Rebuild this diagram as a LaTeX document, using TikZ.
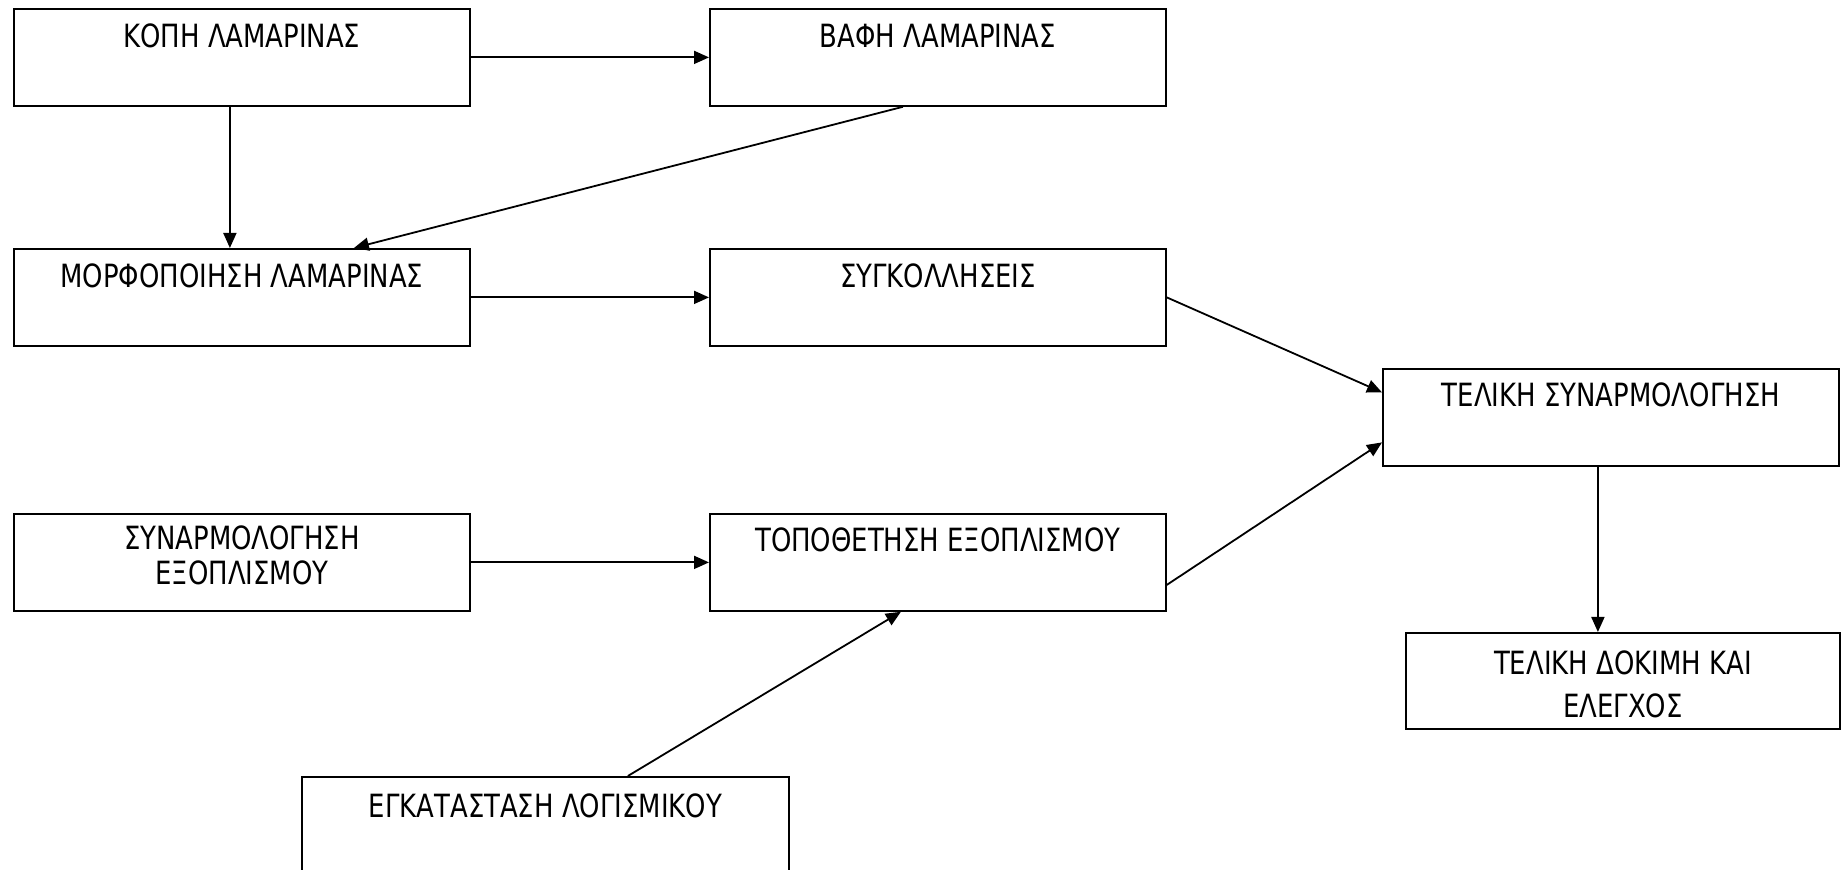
\documentclass[tikz,border=0pt]{standalone}
\usepackage{fontspec}
\setmainfont{DejaVu Sans}[FakeStretch=0.81]
\usetikzlibrary{arrows.meta,calc}
\begin{document}
\begin{tikzpicture}[x=0.5pt,y=-0.5pt,
  box/.style={draw, line width=0.9pt, inner sep=0pt, anchor=north west, minimum height=48.5pt},
  wide/.style={minimum width=228pt},
  txt/.style={anchor=base, inner sep=0pt, font=\fontsize{16}{17.5}\selectfont, align=center},
  conn/.style={line width=0.9pt, -{Triangle[length=7.5pt,width=6.5pt]}}]
\useasboundingbox (0,0) rectangle (1841,870);
\clip (0,0) rectangle (1841,870);
% boxes
\node[box,wide] (b1) at (13,8) {};
\node[box,wide] (b2) at (709,8) {};
\node[box,wide] (b3) at (13,248) {};
\node[box,wide] (b4) at (709,248) {};
\node[box,wide] (b5) at (1382,368) {};
\node[box,wide] (b6) at (13,513) {};
\node[box,wide] (b7) at (709,513) {};
\node[box,minimum width=217pt,minimum height=48pt] (b8) at (1405,632) {};
\node[box,minimum width=243.5pt,minimum height=60pt] (b9) at (301,776) {};
% texts
\node[txt] (t1) at ($(b1.north)+(0,40)$) {ΚΟΠΗ ΛΑΜΑΡΙΝΑΣ};
\node[txt] (t2) at ($(b2.north)+(0,40)$) {ΒΑΦΗ ΛΑΜΑΡΙΝΑΣ};
\node[txt] (t3) at ($(b3.north)+(0,40)$) {ΜΟΡΦΟΠΟΙΗΣΗ ΛΑΜΑΡΙΝΑΣ};
\node[txt] (t4) at ($(b4.north)+(0,40)$) {ΣΥΓΚΟΛΛΗΣΕΙΣ};
\node[txt] (t5) at ($(b5.north)+(0,39)$) {ΤΕΛΙΚΗ ΣΥΝΑΡΜΟΛΟΓΗΣΗ};
\node[txt] (t6) at ($(b6.north)+(0,72)$) {ΣΥΝΑΡΜΟΛΟΓΗΣΗ\\ΕΞΟΠΛΙΣΜΟΥ};
\node[txt] (t7) at ($(b7.north)+(0,39)$) {ΤΟΠΟΘΕΤΗΣΗ ΕΞΟΠΛΙΣΜΟΥ};
\node[txt,font=\fontsize{16}{21.5}\selectfont] (t8) at ($(b8.north)+(0,86)$) {ΤΕΛΙΚΗ ΔΟΚΙΜΗ ΚΑΙ\\ΕΛΕΓΧΟΣ};
\node[txt] (t9) at ($(b9.north)+(0,41)$) {ΕΓΚΑΤΑΣΤΑΣΗ ΛΟΓΙΣΜΙΚΟΥ};
% connectors
\draw[conn] (b1.east) -- (b2.west);
\draw[conn] ([xshift=-6pt]b1.south) -- ([xshift=-6pt]b3.north);
\draw[conn] ([xshift=-17.5pt]b2.south) -- ([xshift=56pt]b3.north);
\draw[conn] (b3.east) -- (b4.west);
\draw[conn] (b4.east) -- ([yshift=12.5pt]b5.west);
\draw[conn] (b6.east) -- (b7.west);
\draw[conn] ([yshift=-11.25pt]b7.east) -- ([yshift=-12.5pt]b5.west);
\draw[conn] ([xshift=41.25pt]b9.north) -- ([xshift=-18.5pt]b7.south);
\draw[conn] ([xshift=-6.5pt]b5.south) -- ([xshift=-6.5pt]b5.south |- b8.north);
\end{tikzpicture}
\end{document}
